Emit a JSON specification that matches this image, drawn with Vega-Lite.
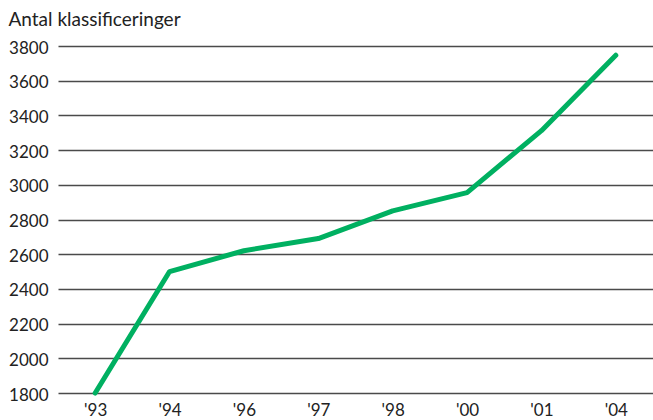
{
  "$schema": "https://vega.github.io/schema/vega-lite/v6.json",
  "width": 595,
  "height": 347,
  "autosize": {"type": "none"},
  "padding": {"left": 58, "top": 46, "right": 0, "bottom": 27},
  "background": "white",
  "config": {
    "view": {"stroke": null},
    "font": "Lato",
    "axis": {"labelFont": "Lato", "titleFont": "Lato"}
  },
  "data": {
    "values": [
      {"year": "'93", "count": 1800},
      {"year": "'94", "count": 2500},
      {"year": "'96", "count": 2620},
      {"year": "'97", "count": 2690},
      {"year": "'98", "count": 2850},
      {"year": "'00", "count": 2955},
      {"year": "'01", "count": 3312},
      {"year": "'04", "count": 3747}
    ]
  },
  "mark": {"type": "line", "color": "#00b061", "strokeWidth": 5, "strokeCap": "round", "strokeJoin": "round"},
  "encoding": {
    "x": {
      "field": "year",
      "type": "ordinal",
      "sort": null,
      "scale": {"type": "point", "padding": 0.5},
      "axis": {
        "title": null,
        "domain": false,
        "ticks": false,
        "grid": false,
        "labelAngle": 0,
        "labelFontSize": 17,
        "labelColor": "#222222",
        "labelPadding": 9
      }
    },
    "y": {
      "field": "count",
      "type": "quantitative",
      "scale": {"domain": [1800, 3800], "nice": false, "zero": false},
      "axis": {
        "values": [1800, 2000, 2200, 2400, 2600, 2800, 3000, 3200, 3400, 3600, 3800],
        "format": "d",
        "domain": false,
        "ticks": false,
        "grid": true,
        "gridColor": "#4a4a4a",
        "gridWidth": 1.3,
        "gridOpacity": 1,
        "labelFontSize": 17,
        "labelColor": "#222222",
        "labelPadding": 10,
        "labelOffset": 2,
        "title": "Antal klassificeringer",
        "titleAngle": 0,
        "titleAlign": "left",
        "titleBaseline": "alphabetic",
        "titleX": -50,
        "titleY": -21,
        "titleFontSize": 19,
        "titleFontWeight": "normal",
        "titleColor": "#222222"
      }
    }
  }
}
